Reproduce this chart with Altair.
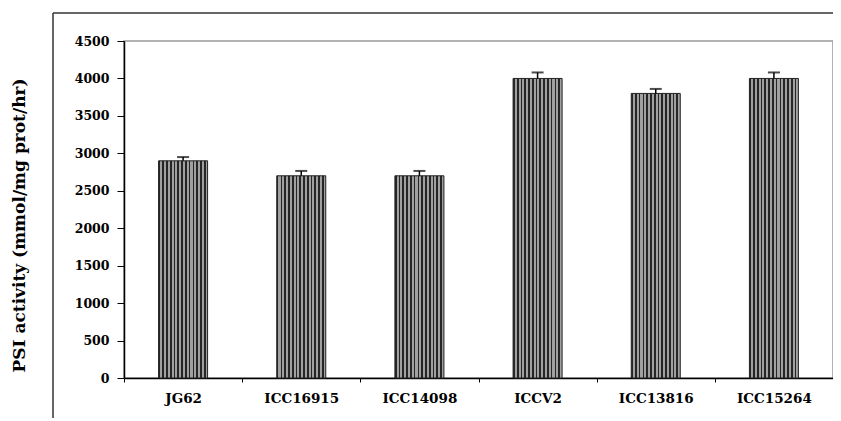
import altair as alt
import pandas as pd

genotypes = ["JG62", "ICC16915", "ICC14098", "ICCV2", "ICC13816", "ICC15264"]
psi = [2900, 2700, 2700, 4000, 3800, 4000]
err = [50, 65, 65, 80, 60, 80]
yticks = [0, 500, 1000, 1500, 2000, 2500, 3000, 3500, 4000, 4500]

df = pd.DataFrame({"g": genotypes, "v": psi, "e": err})
df["hi"] = df["v"] + df["e"]

# striped fill (vertical stripes) via hard-stop gradient
n = 13
stops = []
for i in range(n):
    a = i / n
    b = (i + 0.45) / n
    c = (i + 1) / n
    stops += [alt.GradientStop(offset=a, color="#262626"),
              alt.GradientStop(offset=b, color="#262626"),
              alt.GradientStop(offset=b, color="#a0a0a0"),
              alt.GradientStop(offset=c, color="#a0a0a0")]
grad = alt.Gradient(gradient="linear", x1=0, x2=1, y1=0, y2=0, stops=stops)

FONT = "DejaVu Serif"
W, H = 709, 337
TITLE = "PSI activity (mmol/mg prot/hr)"

xaxis = alt.Axis(labelAngle=0, labelFont=FONT, labelFontWeight="bold",
                 labelFontSize=13.5, labelColor="black", labelPadding=9,
                 tickBand="extent", tickSize=4, tickColor="black",
                 domainColor="black", domainWidth=1.5)
yaxis = alt.Axis(values=yticks, format="d", grid=False, labelOverlap=False,
                 labelFont=FONT, labelFontWeight="bold", labelFontSize=12.5,
                 labelColor="black", labelPadding=8, tickSize=7,
                 tickColor="black", domainColor="black", domainWidth=1.5,
                 titleFont=FONT, titleFontWeight="bold", titleFontSize=17,
                 titleColor="black", titleX=-105, titleY=184,
                 titleAngle=-90, titleAlign="center", titleBaseline="middle")
xs = alt.Scale(paddingInner=0, paddingOuter=0)
ys = alt.Scale(domain=[0, 4500])

x = alt.X("g:N", sort=genotypes, title=None, scale=xs, axis=xaxis)

bars = alt.Chart(df).mark_bar(size=49, fill=grad, stroke="#222", strokeWidth=1).encode(
    x=x, y=alt.Y("v:Q", title=TITLE, scale=ys, axis=yaxis))
ebar = alt.Chart(df).mark_rule(color="black", strokeWidth=1.5).encode(
    x=x, y=alt.Y("v:Q", title=TITLE, scale=ys, axis=yaxis), y2="hi:Q")
cap = alt.Chart(df).mark_tick(color="black", size=12, thickness=2).encode(
    x=x, y=alt.Y("hi:Q", title=TITLE, scale=ys, axis=yaxis))

one = pd.DataFrame({"k": [0]})
top_line = alt.Chart(one).mark_rule(color="#333", strokeWidth=1.5).encode(
    x=alt.value(-71), x2=alt.value(W + 10), y=alt.value(-28))
left_line = alt.Chart(one).mark_rule(color="#333", strokeWidth=1.5).encode(
    x=alt.value(-71), y=alt.value(-28), y2=alt.value(H + 60))

chart = alt.layer(bars, ebar, cap, top_line, left_line).properties(
    width=W, height=H,
    autosize=alt.AutoSizeParams(type="none"),
    padding={"left": 116, "top": 33, "right": 0, "bottom": 40},
).configure_view(stroke="#999", strokeWidth=1.5)

chart.save("out.html", embed_options={"renderer": "svg", "actions": False})
